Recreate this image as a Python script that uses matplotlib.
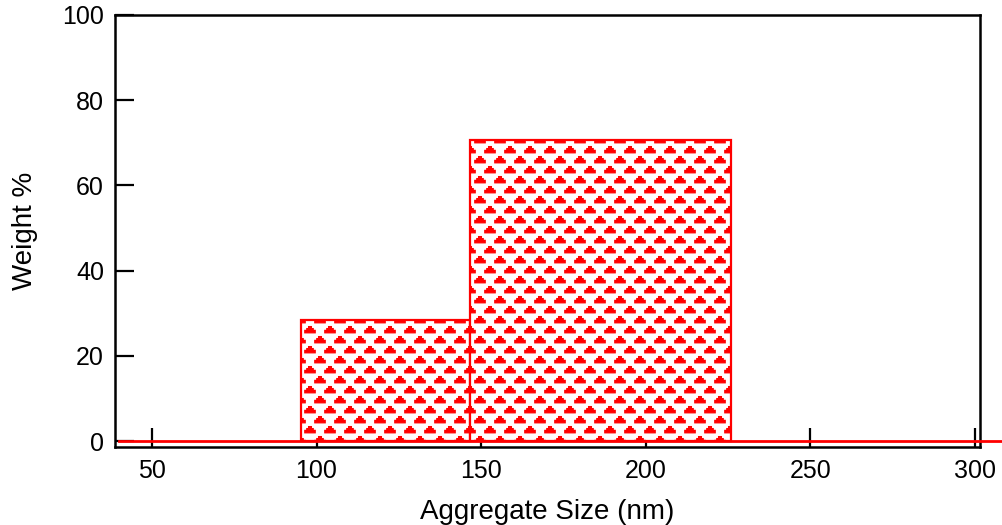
import numpy as np
import matplotlib
matplotlib.use("Agg")
import matplotlib.pyplot as plt
import matplotlib.hatch as mhatch
from matplotlib.path import Path

# ---- data ----
bin_edges = [95.2, 146.6, 226.0]
weights = [28.3, 70.6]
x_ticks = [50, 100, 150, 200, 250, 300]
y_ticks = [0, 20, 40, 60, 80, 100]
x_label = "Aggregate Size (nm)"
y_label = "Weight %"

RED = "#ff0000"


# ---- custom "pyramid" hatch (replaces '*') ----
class Pyramids(mhatch.HatchPatternBase):
    ncol = 5
    nrow = 10
    # stepped pyramid shape in units of column spacing
    shape = np.array([[-0.26, -0.14], [0.26, -0.14], [0.26, -0.02],
                      [0.16, -0.02], [0.16, 0.07], [0.07, 0.07],
                      [0.07, 0.17], [-0.07, 0.17], [-0.07, 0.07],
                      [-0.16, 0.07], [-0.16, -0.02], [-0.26, -0.02],
                      [-0.26, -0.14]])

    def __init__(self, hatch, density):
        self.on = hatch.count('*') > 0
        self.centers = []
        if self.on:
            dx = 1.0 / self.ncol
            dy = 1.0 / self.nrow
            for r in range(self.nrow + 1):
                if r % 2 == 0:
                    cols = np.linspace(0, 1, self.ncol + 1)
                else:
                    cols = np.linspace(dx / 2, 1 - dx / 2, self.ncol)
                for c in cols:
                    self.centers.append((c, r * dy))
        self.num_vertices = len(self.centers) * len(self.shape)

    def set_vertices_and_codes(self, vertices, codes):
        dx = 1.0 / self.ncol
        sv = self.shape * dx
        sc = [Path.MOVETO] + [Path.LINETO] * (len(sv) - 2) + [Path.CLOSEPOLY]
        vp, cp = [], []
        for (cx, cy) in self.centers:
            vp.append(sv + [cx, cy])
            cp.append(sc)
        np.concatenate(vp, out=vertices)
        np.concatenate(cp, out=codes)


hatch_str = "."
try:
    mhatch._hatch_types = [t for t in mhatch._hatch_types
                           if t is not mhatch.Stars] + [Pyramids]
    hatch_str = "*"
except Exception:
    hatch_str = "."

plt.rcParams['font.family'] = ['Liberation Sans', 'DejaVu Sans']
plt.rcParams['hatch.linewidth'] = 0.9
plt.rcParams['hatch.color'] = RED

fig = plt.figure(figsize=(10.02, 5.25), dpi=100)
ax = fig.add_axes([115 / 1002, 1 - 447 / 525, (980 - 115) / 1002, (447 - 15) / 525])

widths = np.diff(bin_edges)
ax.bar(bin_edges[:-1], weights, width=widths, align='edge',
       facecolor='white', edgecolor=RED, linewidth=1.6, hatch=hatch_str, zorder=2)

# baseline of the histogram trace
ax.plot([40, 320], [0, 0], color=RED, linewidth=2, clip_on=False, zorder=3)

ax.set_xlim(38.8, 301.5)
ax.set_ylim(-1.4, 100)
ax.set_xticks(x_ticks)
ax.set_yticks(y_ticks)
ax.tick_params(direction='in', length=14, width=1.6, labelsize=18, pad=9,
               top=False, right=False)
ax.tick_params(axis='y', pad=8)
for s in ax.spines.values():
    s.set_linewidth(1.8)
ax.set_xlabel(x_label, fontsize=20, labelpad=11)
ax.set_ylabel(y_label, fontsize=20, labelpad=17)

fig.savefig("out.png", dpi=100)
